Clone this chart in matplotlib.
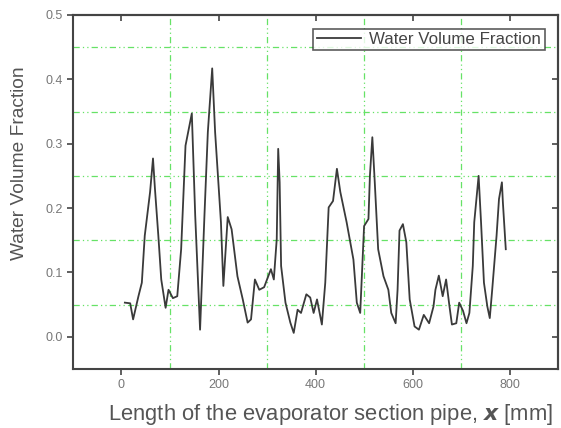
import numpy as np
import matplotlib.pyplot as plt
from matplotlib.ticker import MultipleLocator, FormatStrFormatter

# positions along the pipe (mm) and water volume fraction
x_mm = [7, 18, 24, 35, 42, 48, 59, 65, 69, 76, 82, 91, 97, 106, 115, 123, 132, 145,
        152, 162, 171, 178, 187, 193, 205, 210, 219, 227, 239, 250, 260, 267, 275, 284,
        294, 308, 314, 320, 323, 326, 329, 338, 348, 355, 363, 370, 381, 389, 396, 403,
        413, 420, 427, 436, 444, 451, 464, 478, 485, 492, 500, 509, 512, 517, 522, 529,
        540, 550, 556, 565, 569, 573, 580, 587, 594, 604, 613, 623, 634, 643, 647, 654,
        662, 669, 676, 681, 690, 696, 704, 711, 717, 724, 727, 736, 741, 747, 754, 759,
        764, 773, 778, 784, 786, 792]
wvf = [0.053, 0.052, 0.027, 0.063, 0.084, 0.157, 0.225, 0.277, 0.230, 0.157, 0.089,
       0.045, 0.073, 0.060, 0.063, 0.136, 0.297, 0.347, 0.188, 0.011, 0.188, 0.318,
       0.417, 0.318, 0.178, 0.079, 0.186, 0.167, 0.094, 0.058, 0.022, 0.027, 0.089,
       0.073, 0.077, 0.105, 0.089, 0.152, 0.292, 0.240, 0.110, 0.053, 0.022, 0.006,
       0.042, 0.037, 0.066, 0.061, 0.037, 0.058, 0.019, 0.084, 0.201, 0.211, 0.261,
       0.225, 0.178, 0.120, 0.053, 0.037, 0.172, 0.183, 0.250, 0.310, 0.240, 0.136,
       0.094, 0.073, 0.037, 0.021, 0.073, 0.165, 0.175, 0.147, 0.058, 0.016, 0.011,
       0.034, 0.021, 0.047, 0.073, 0.095, 0.063, 0.089, 0.047, 0.019, 0.021, 0.053,
       0.040, 0.021, 0.037, 0.110, 0.178, 0.250, 0.178, 0.084, 0.047, 0.029, 0.073,
       0.157, 0.214, 0.240, 0.209, 0.136]

plt.rcParams['font.family'] = ['Liberation Sans', 'DejaVu Sans']

fig = plt.figure(figsize=(5.61, 4.28), dpi=100)
ax = fig.add_axes([0.130, 0.138, 0.865, 0.827])

ax.plot(x_mm, wvf, color='#3a3a3a', lw=1.3, label='Water Volume Fraction')

ax.set_xlim(-100, 900)
ax.set_ylim(-0.05, 0.5)
ax.xaxis.set_major_locator(MultipleLocator(200))
ax.yaxis.set_major_locator(MultipleLocator(0.1))
ax.yaxis.set_major_formatter(FormatStrFormatter('%.1f'))
ax.set_xticks([100, 300, 500, 700], minor=True)
ax.set_yticks([0.05, 0.15, 0.25, 0.35, 0.45], minor=True)
ax.grid(which='minor', color='#66e266', ls=(0, (5, 2.5, 1, 2.5, 1, 2.5)), lw=0.9)
ax.tick_params(which='minor', length=0)
ax.tick_params(which='major', direction='out', length=4, width=1.2,
               color='#444444', labelsize=9, labelcolor='#777777')

top = ax.secondary_xaxis('top')
top.xaxis.set_major_locator(MultipleLocator(200))
top.tick_params(direction='in', length=4, width=1.2, color='#444444', labeltop=False)
right = ax.secondary_yaxis('right')
right.yaxis.set_major_locator(MultipleLocator(0.1))
right.tick_params(direction='in', length=4, width=1.2, color='#444444', labelright=False)

for a in (ax, top, right):
    for s in a.spines.values():
        s.set_color('#444444')
        s.set_linewidth(1.5)

ax.set_xlabel(r'Length of the evaporator section pipe, $\boldsymbol{x}$ [mm]',
              fontsize=15.8, color='#555555')
ax.xaxis.set_label_coords(0.53, -0.093)
ax.set_ylabel('Water Volume Fraction', fontsize=13.8, color='#555555')
ax.yaxis.set_label_coords(-0.093, 0.58)

leg = ax.legend(loc='upper right', fontsize=12.2, frameon=True, fancybox=False,
                handlelength=2.6, borderpad=0.2, borderaxespad=0.8, handletextpad=0.5)
leg.get_frame().set_edgecolor('#333333')
leg.get_frame().set_linewidth(1.2)
for t in leg.get_texts():
    t.set_color('#444444')

fig.savefig('out.png', dpi=100)
